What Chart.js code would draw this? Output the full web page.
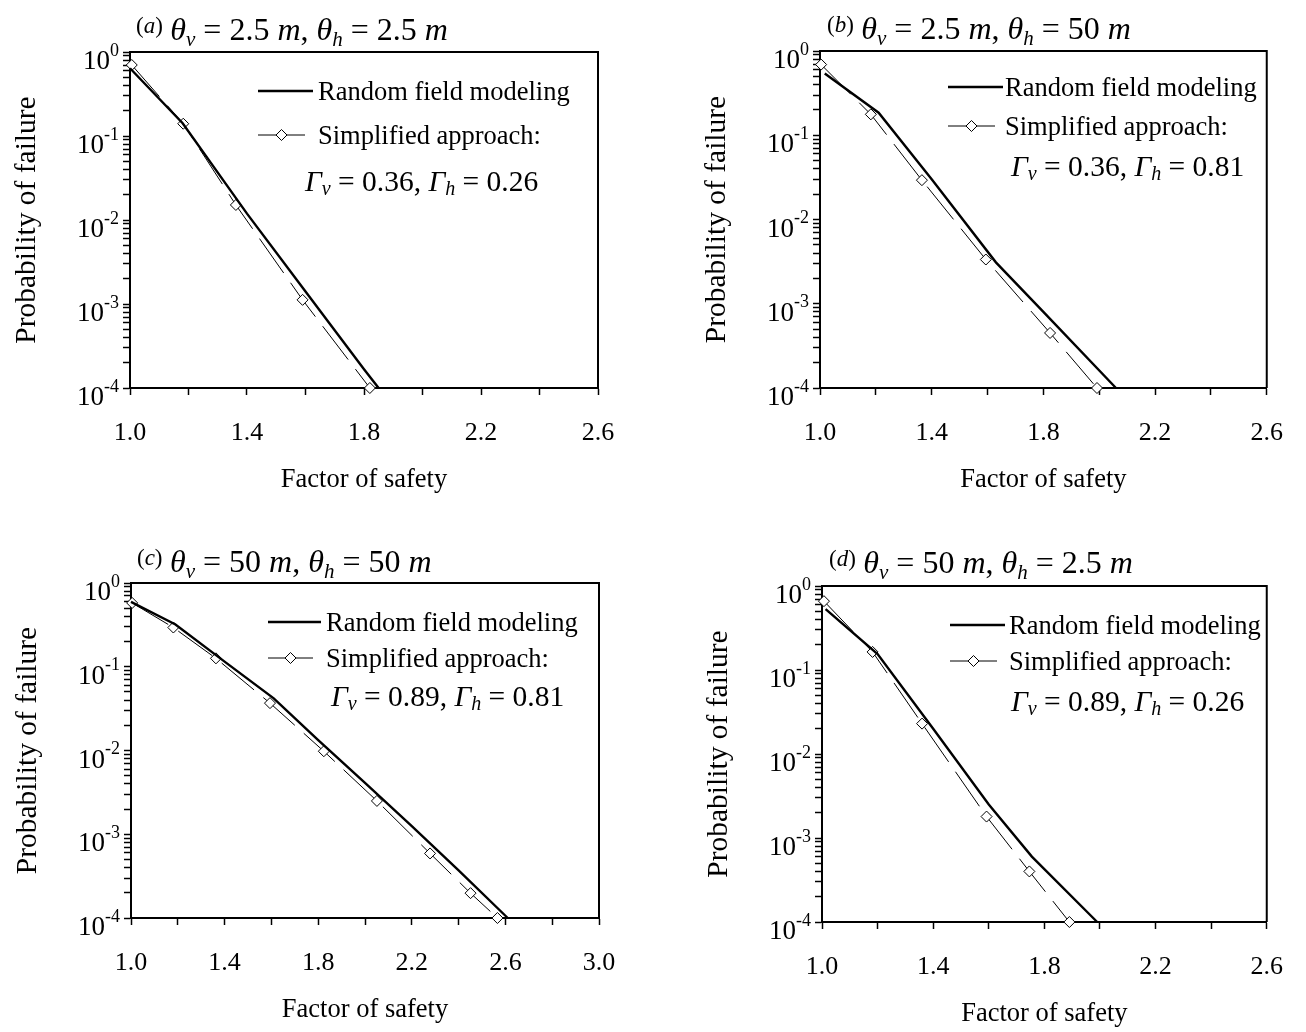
<!DOCTYPE html>
<html>
<head>
<meta charset="utf-8">
<script src="https://cdn.jsdelivr.net/npm/chart.js@4.4.1/dist/chart.umd.min.js"></script>
<style>
  body { margin: 0; background: #fff; }
  .pane { position: absolute; width: 653px; height: 516px; }
</style>
</head>
<body>
<div class="pane" style="left:0;top:0"><canvas id="chartA" width="653" height="516"></canvas></div>
<div class="pane" style="left:653px;top:0"><canvas id="chartB" width="653" height="516"></canvas></div>
<div class="pane" style="left:0;top:516px"><canvas id="chartC" width="653" height="516"></canvas></div>
<div class="pane" style="left:653px;top:516px"><canvas id="chartD" width="653" height="516"></canvas></div>
<script>
// ---- data ----
// (a) theta_v = 2.5 m, theta_h = 2.5 m
const rfFsA = [1.0, 1.18, 1.4, 1.6, 1.8, 1.85];
const rfPfA = [0.64, 0.142, 0.0119, 0.00141, 0.000167, 0.0001];
const saFsA = [1.006, 1.182, 1.362, 1.59, 1.82];
const saPfA = [0.70, 0.140, 0.0151, 0.00112, 0.0001];

// (b) theta_v = 2.5 m, theta_h = 50 m
const rfFsB = [1.017, 1.21, 1.4, 1.63, 1.8, 2.06];
const rfPfB = [0.54, 0.185, 0.030, 0.0031, 0.0008, 0.0001];
const saFsB = [1.004, 1.182, 1.365, 1.594, 1.824, 1.992];
const saPfB = [0.69, 0.177, 0.0293, 0.00335, 0.00045, 0.0001];

// (c) theta_v = 50 m, theta_h = 50 m
const rfFsC = [1.0, 1.19, 1.4, 1.61, 1.8, 2.0, 2.2, 2.4, 2.61];
const rfPfC = [0.594, 0.32, 0.115, 0.042, 0.0133, 0.0041, 0.00125, 0.00037, 0.0001];
const saFsC = [1.005, 1.181, 1.363, 1.594, 1.824, 2.051, 2.278, 2.451, 2.566];
const saPfC = [0.578, 0.294, 0.126, 0.0368, 0.0098, 0.0025, 0.00059, 0.000198, 0.0001];

// (d) theta_v = 50 m, theta_h = 2.5 m
const rfFsD = [1.013, 1.2, 1.4, 1.6, 1.755, 1.99];
const rfPfD = [0.53, 0.155, 0.02, 0.0025, 0.0006, 0.0001];
const saFsD = [1.007, 1.182, 1.36, 1.592, 1.746, 1.89];
const saPfD = [0.66, 0.164, 0.023, 0.0018, 0.0004, 0.0001];

const seriesNames = ['Random field modeling', 'Simplified approach:'];
const panelTags = ['a', 'b', 'c', 'd'];
const thetaV = ['2.5', '2.5', '50', '50'];
const thetaH = ['2.5', '50', '50', '2.5'];
const gammaV = ['0.36', '0.36', '0.89', '0.89'];
const gammaH = ['0.26', '0.81', '0.81', '0.26'];

const xLabels = [1.0, 1.4, 1.8, 2.2, 2.6, 3.0];
const decades = [1, 0.1, 0.01, 0.001, 0.0001];
const decadeExp = ['0', '-1', '-2', '-3', '-4'];

const FONT = "'Liberation Serif', 'Times New Roman', serif";

// log ticks: every 1..9 x 10^n
const yTicks = [];
for (let e = -4; e <= 0; e++) {
  for (let m = 1; m <= 9; m++) {
    if (e === 0 && m > 1) break;
    yTicks.push(+(m * Math.pow(10, e)).toPrecision(3));
  }
}

function rich(ctx, x, y, parts) {
  for (const [t, size, italic, dy] of parts) {
    ctx.font = (italic ? 'italic ' : '') + size + 'px ' + FONT;
    ctx.fillText(t, x, y + (dy || 0));
    x += ctx.measureText(t).width;
  }
  return x;
}

function diamond(ctx, x, y, r) {
  ctx.beginPath();
  ctx.moveTo(x - r, y); ctx.lineTo(x, y - r); ctx.lineTo(x + r, y); ctx.lineTo(x, y + r);
  ctx.closePath();
  ctx.fillStyle = '#fff'; ctx.fill();
  ctx.lineWidth = 1; ctx.strokeStyle = '#000'; ctx.stroke();
}

const decorPlugin = {
  id: 'decor',
  afterDraw(chart) {
    const ctx = chart.ctx;
    const o = chart.options.plugins.decor;
    const a = chart.chartArea;
    const y = chart.scales.y;
    ctx.save();
    // frame: top and right
    ctx.strokeStyle = '#000';
    ctx.lineWidth = 2;
    ctx.beginPath();
    ctx.moveTo(a.left - 1, a.top); ctx.lineTo(a.right, a.top); ctx.lineTo(a.right, a.bottom);
    ctx.stroke();

    // y tick labels 10^n
    ctx.fillStyle = '#000';
    ctx.textBaseline = 'middle';
    ctx.textAlign = 'left';
    decades.forEach((v, i) => {
      const py = y.getPixelForValue(v);
      ctx.font = '18px ' + FONT;
      const we = ctx.measureText(decadeExp[i]).width;
      ctx.font = '27px ' + FONT;
      const wt = ctx.measureText('10').width;
      const x0 = a.left - 11 - we - wt;
      ctx.fillText('10', x0, py + 10);
      ctx.font = '18px ' + FONT;
      ctx.fillText(decadeExp[i], x0 + wt, py - 1);
    });

    // panel title
    const k = o.index;
    ctx.textBaseline = 'alphabetic';
    rich(ctx, o.title[0], o.title[1], [
      ['(', 23, false, -7], [panelTags[k], 23, true, -7], [')', 23, false, -7], [' ', 30],
      ['θ', 32, true], ['v', 21, true, 6], [' = ' + thetaV[k] + ' ', 32], ['m', 32, true], [', ', 32],
      ['θ', 32, true], ['h', 21, true, 6], [' = ' + thetaH[k] + ' ', 32], ['m', 32, true]
    ]);

    // legend
    const L = o.legend;
    ctx.strokeStyle = '#000';
    ctx.lineWidth = 2.4;
    ctx.beginPath(); ctx.moveTo(L.x1, L.y1); ctx.lineTo(L.x2, L.y1); ctx.stroke();
    ctx.lineWidth = 1;
    ctx.beginPath(); ctx.moveTo(L.x1, L.y2); ctx.lineTo(L.x2 - 8, L.y2); ctx.stroke();
    diamond(ctx, (L.x1 + L.x2 - 8) / 2, L.y2, 5.5);
    ctx.fillStyle = '#000';
    ctx.textBaseline = 'middle';
    ctx.font = '26.5px ' + FONT;
    ctx.fillText(seriesNames[0], L.tx, L.y1 + 2);
    ctx.fillText(seriesNames[1], L.tx, L.y2 + 2);
    rich(ctx, L.gx, L.y3, [
      ['Γ', 29.5, true], ['v', 20, true, 7], [' = ' + gammaV[k] + ', ', 29.5],
      ['Γ', 29.5, true], ['h', 20, true, 7], [' = ' + gammaH[k], 29.5]
    ]);
    ctx.restore();
  }
};

function makePanel(id, index, rfFs, rfPf, saFs, saPf, xMax, area, title, legend) {
  const W = 653, H = 516;
  const axisLine = { display: true, color: '#000', width: 2 };
  const gridOpts = { drawOnChartArea: false, drawTicks: true, tickLength: 7, tickWidth: 1.5, tickColor: '#000' };
  return new Chart(document.getElementById(id), {
    type: 'line',
    data: {
      datasets: [
        {
          label: seriesNames[0],
          data: rfFs.map((x, i) => ({ x: x, y: rfPf[i] })),
          borderColor: '#000',
          borderWidth: 2.4,
          pointRadius: 0,
          fill: false,
          tension: 0,
          clip: false
        },
        {
          label: seriesNames[1],
          data: saFs.map((x, i) => ({ x: x, y: saPf[i] })),
          borderColor: '#000',
          borderWidth: 1,
          borderDash: [42, 12],
          pointStyle: 'rectRot',
          pointRadius: 5.5,
          pointBackgroundColor: '#fff',
          pointBorderColor: '#000',
          pointBorderWidth: 1,
          fill: false,
          tension: 0,
          clip: false
        }
      ]
    },
    options: {
      responsive: false,
      animation: false,
      events: [],
      layout: { padding: { left: area.left - 120, top: area.top, right: W - area.right, bottom: H - area.bottom - 110 } },
      plugins: {
        legend: { display: false },
        tooltip: { enabled: false },
        decor: { index: index, title: title, legend: legend }
      },
      scales: {
        x: {
          type: 'linear',
          min: 1,
          max: xMax,
          afterFit: s => { s.height = 110; },
          ticks: {
            stepSize: 0.2,
            autoSkip: false,
            maxRotation: 0,
            padding: 23,
            color: '#000',
            font: { family: FONT, size: 26 },
            callback: value => {
              const v = Math.round(value * 10) / 10;
              return xLabels.includes(v) ? v.toFixed(1) : '';
            }
          },
          grid: gridOpts,
          border: axisLine,
          title: { display: true, text: 'Factor of safety', color: '#000', font: { family: FONT, size: 26.5 }, padding: { top: 0, bottom: 2 } }
        },
        y: {
          type: 'logarithmic',
          min: 0.0001,
          max: 1,
          afterFit: s => { s.width = 120; },
          afterBuildTicks: s => { s.ticks = yTicks.map(v => ({ value: v })); },
          ticks: { display: false },
          grid: gridOpts,
          border: axisLine,
          title: { display: true, text: 'Probability of failure', color: '#000', font: { family: FONT, size: 29.5 }, padding: { top: 0, bottom: 0 } }
        }
      }
    },
    plugins: [decorPlugin]
  });
}

makePanel('chartA', 0, rfFsA, rfPfA, saFsA, saPfA, 2.6,
  { left: 130, top: 52, right: 598, bottom: 388 }, [136, 40],
  { x1: 258, x2: 313, y1: 91, y2: 135, y3: 183, tx: 318, gx: 305 });
makePanel('chartB', 1, rfFsB, rfPfB, saFsB, saPfB, 2.6,
  { left: 167, top: 51, right: 636, bottom: 388 }, [174, 39],
  { x1: 295, x2: 350, y1: 87, y2: 126, y3: 168, tx: 352, gx: 358 });
makePanel('chartC', 2, rfFsC, rfPfC, saFsC, saPfC, 3.0,
  { left: 131, top: 67, right: 599, bottom: 402 }, [137, 56],
  { x1: 268, x2: 321, y1: 106, y2: 142, y3: 182, tx: 326, gx: 331 });
makePanel('chartD', 3, rfFsD, rfPfD, saFsD, saPfD, 2.6,
  { left: 169, top: 70, right: 635, bottom: 406 }, [176, 57],
  { x1: 297, x2: 352, y1: 109, y2: 145, y3: 187, tx: 356, gx: 358 });
</script>
</body>
</html>
